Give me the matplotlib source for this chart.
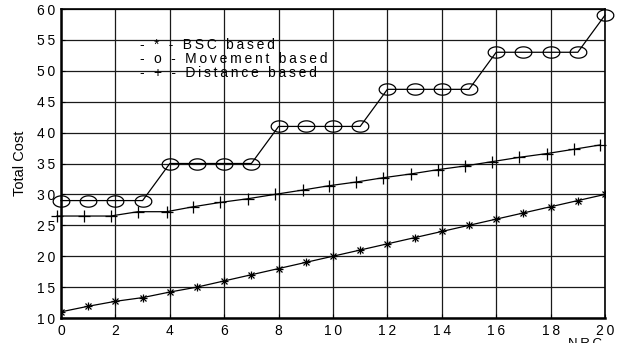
import numpy as np
import matplotlib
matplotlib.use("Agg")
import matplotlib.pyplot as plt

plt.rcParams['font.family'] = ['Liberation Sans', 'DejaVu Sans']

# data
nrc = list(range(21))
bsc_cost = [11, 11.9, 12.7, 13.3, 14.2, 15, 16, 17, 18, 19, 20,
            21, 22, 23, 24, 25, 26, 27, 28, 29, 30]
move_cost = [29, 29, 29, 29, 35, 35, 35, 35, 41, 41, 41,
             41, 47, 47, 47, 47, 53, 53, 53, 53, 59]
dist_x = [-0.15, 0.85, 1.82, 2.83, 3.88, 4.86, 5.85, 6.87, 7.86, 8.88, 9.85,
          10.85, 11.85, 12.85, 13.85, 14.85, 15.85, 16.85, 17.85, 18.85, 19.82]
dist_cost = [26.5, 26.5, 26.5, 27.2, 27.2, 28.0, 28.7, 29.3, 30.0, 30.7, 31.4,
             32.0, 32.7, 33.3, 34.0, 34.6, 35.3, 36.0, 36.6, 37.3, 38.0]

legend_lines = ['- * - BSC based', '- o - Movement based', '- + - Distance based']
xticks = list(range(0, 21, 2))
yticks = list(range(10, 61, 5))


def spaced(s):
    # the original labels are drawn with wide letter spacing
    return '\u2009'.join(s)


# ellipse marker (wider than tall, as in the original)
t = np.linspace(0, 2 * np.pi, 40)
ellipse = np.column_stack([np.cos(t), 0.68 * np.sin(t)])

fig = plt.figure(figsize=(6.26, 3.43), dpi=100)
ax = fig.add_axes([61 / 626, 1 - 318 / 343, 544 / 626, 309 / 343])

ax.plot(nrc, bsc_cost, color='black', lw=0.9)
ax.plot(nrc, bsc_cost, ls='none', marker='+', ms=6, mew=0.9, color='black')
ax.plot(nrc, bsc_cost, ls='none', marker='x', ms=4.5, mew=0.9, color='black')

ax.plot(nrc, move_cost, color='black', lw=0.9, marker=ellipse, ms=12,
        mfc='none', mec='black', mew=0.9, clip_on=False)

ax.plot(dist_x, dist_cost, color='black', lw=0.9, marker='+', ms=8,
        mew=0.9, clip_on=False)

ax.set_xlim(0, 20)
ax.set_ylim(10, 60)
ax.set_xticks(xticks)
ax.set_yticks(yticks)
ax.set_xticklabels([spaced(str(v)) for v in xticks], fontsize=10)
ax.set_yticklabels([spaced(str(v)) for v in yticks], fontsize=10)
ax.tick_params(direction='in', length=3, width=0.8, pad=4)
ax.grid(True, color='#1a1a1a', lw=0.9)

for side in ['left', 'bottom']:
    ax.spines[side].set_linewidth(1.8)
for side in ['top', 'right']:
    ax.spines[side].set_linewidth(1.2)

ax.set_ylabel('Total Cost', fontsize=10.5, labelpad=7)

for i, line in enumerate(legend_lines):
    ax.text(140 / 626, 1 - (45 + 14 * i) / 343, spaced(line), fontsize=10,
            transform=fig.transFigure, va='center', ha='left')

fig.text(0.935, 0.014, spaced('NRC'), fontsize=9.5, ha='center', va='top')

fig.savefig('out.png', dpi=100)
